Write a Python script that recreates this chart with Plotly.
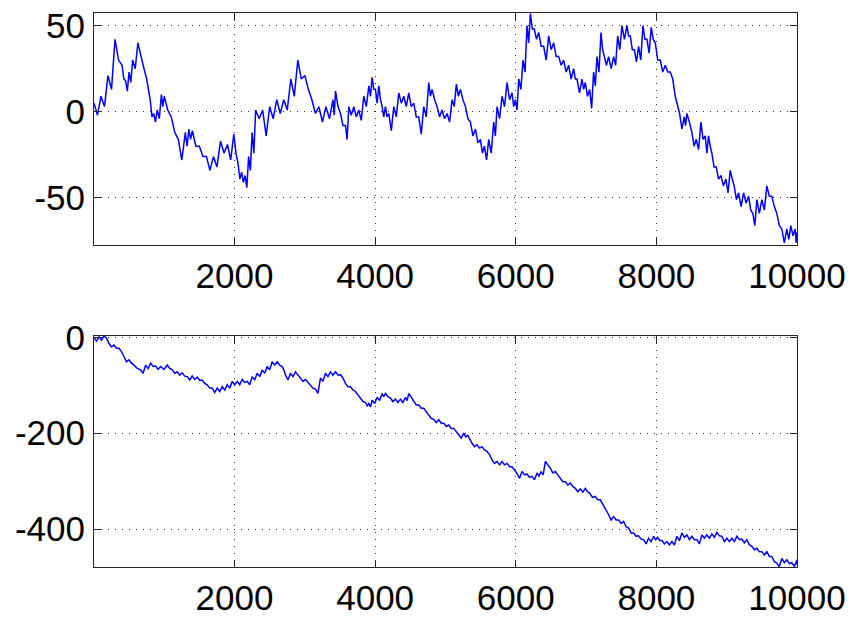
import plotly.graph_objects as go

# ---- top series: sample position, upper and lower edge of the noisy trace ----
top_x = [1, 100, 200, 300, 400, 450, 500, 550, 625, 700, 800, 850, 900, 960, 1000,
         1100, 1200, 1300, 1350, 1400, 1500, 1600, 1700, 1800, 1900, 1990, 2050, 2100,
         2150, 2200, 2250, 2300, 2400, 2500, 2600, 2700, 2800, 2900, 3000, 3100, 3200,
         3300, 3400, 3436, 3507, 3578, 3625, 3696, 3767, 3838, 3910, 3957, 4004, 4052,
         4099, 4146, 4194, 4265, 4336, 4407, 4478, 4549, 4620, 4691, 4762, 4810, 4881,
         4952, 5023, 5094, 5155, 5212, 5284, 5355, 5426, 5497, 5554, 5615, 5686, 5734,
         5805, 5876, 5947, 5994, 6042, 6103, 6160, 6208, 6264, 6326, 6397, 6468, 6539,
         6610, 6681, 6752, 6823, 6871, 6942, 6989, 7051, 7107, 7155, 7212, 7259, 7321,
         7392, 7449, 7510, 7581, 7629, 7686, 7747, 7809, 7866, 7927, 7984, 8055, 8126,
         8197, 8268, 8330, 8396, 8434, 8505, 8567, 8633, 8695, 8742, 8789, 8851, 8918,
         8989, 9050, 9107, 9169, 9240, 9311, 9372, 9429, 9500, 9571, 9642, 9713, 9784,
         9855, 9912, 9974, 10000]
top_hi = [5, 9, 21, 42, 27, 18, 23, 30, 40, 27, 7, -1, 1, 10, 9,
          -3, -16, -12, -10, -11, -20, -26, -26, -17, -19, -13, -30, -35,
          -37, -26, -12, 1, 1, 3, 7, 7, 19, 30, 21, 7, 3,
          3, 7, 12, -1, -8, 3, 3, 1, 9, 15, 20, 13, 15,
          3, 3, -1, 3, 11, 9, 11, 5, -3, 3, 17, 13, 3,
          1, -1, 7, 16, 13, 3, -6, -10, -16, -20, -16, -6, 3,
          9, 17, 11, 7, 19, 30, 50, 57, 48, 46, 38, 44, 40,
          32, 30, 27, 25, 19, 19, 17, 13, 23, 32, 46, 32, 32,
          32, 44, 50, 50, 44, 36, 38, 50, 42, 49, 40, 30, 27,
          23, 9, -1, -3, -1, -12, -16, -6, -14, -14, -24, -32, -37,
          -39, -34, -43, -47, -47, -49, -59, -51, -51, -43, -49, -59, -68,
          -68, -66, -68, -70]
top_lo = [-2, 3, 13, 30, 19, 12, 17, 25, 33, 19, -3, -6, -4, 3, 1,
          -12, -28, -20, -16, -20, -26, -34, -32, -24, -28, -24, -39, -41,
          -44, -34, -24, -4, -14, -4, -1, 1, 9, 19, 13, -1, -6,
          -4, -2, 3, -8, -16, -2, -3, -5, 3, 9, 13, 5, 7,
          -3, -3, -11, -3, 5, 3, 3, -3, -13, -3, 9, 7, -3,
          -4, -6, 3, 9, 7, -4, -14, -18, -24, -28, -24, -14, -4,
          3, 7, 3, 1, 13, 23, 40, 48, 42, 38, 30, 36, 32,
          27, 23, 19, 19, 11, 13, 9, 2, 15, 23, 36, 27, 25,
          27, 36, 42, 44, 36, 29, 30, 42, 34, 42, 30, 23, 23,
          19, 3, -10, -8, -6, -20, -22, -16, -24, -20, -32, -39, -43,
          -47, -39, -51, -55, -53, -57, -66, -59, -57, -49, -55, -66, -76,
          -74, -72, -76, -74]

# ---- bottom series ----
bot_x = [1, 72, 143, 214, 285, 356, 427, 498, 569, 664, 735, 806, 877, 948, 1043,
         1114, 1185, 1256, 1327, 1398, 1469, 1540, 1611, 1682, 1754, 1825, 1896, 1967,
         2038, 2109, 2180, 2251, 2322, 2393, 2464, 2535, 2606, 2677, 2725, 2796, 2867,
         2938, 3009, 3080, 3151, 3222, 3293, 3364, 3436, 3507, 3578, 3649, 3720, 3791,
         3862, 3910, 3957, 4028, 4099, 4146, 4218, 4289, 4360, 4431, 4478, 4549, 4620,
         4691, 4762, 4833, 4905, 4976, 5047, 5118, 5189, 5260, 5317, 5378, 5449, 5520,
         5591, 5663, 5734, 5805, 5876, 5947, 6018, 6089, 6160, 6231, 6302, 6359, 6421,
         6492, 6563, 6634, 6705, 6776, 6847, 6918, 6989, 7051, 7131, 7202, 7259, 7321,
         7392, 7463, 7534, 7605, 7676, 7747, 7818, 7889, 7960, 8017, 8079, 8150, 8221,
         8292, 8363, 8434, 8505, 8576, 8647, 8718, 8789, 8861, 8932, 9003, 9074, 9145,
         9216, 9287, 9358, 9429, 9500, 9571, 9642, 9713, 9784, 9855, 9926, 10000]
bot_hi = [0, 1, 3, -13, -16, -23, -40, -47, -58, -68, -58, -54, -60, -61, -58,
          -68, -72, -74, -82, -81, -83, -89, -99, -106, -106, -103, -99, -92,
          -92, -88, -92, -82, -75, -68, -61, -51, -51, -61, -79, -75, -72,
          -85, -88, -99, -108, -85, -75, -72, -72, -78, -96, -103, -113, -127,
          -136, -138, -131, -125, -117, -117, -127, -129, -129, -125, -117, -134, -141,
          -148, -162, -171, -172, -179, -183, -190, -204, -200, -204, -221, -224, -228,
          -238, -256, -259, -259, -263, -270, -284, -280, -285, -290, -283, -280, -259,
          -273, -280, -294, -301, -304, -315, -316, -315, -325, -332, -339, -353, -370,
          -374, -381, -384, -398, -408, -414, -422, -419, -415, -417, -424, -426, -426,
          -415, -408, -412, -415, -422, -412, -412, -410, -407, -415, -419, -419, -415,
          -421, -422, -436, -440, -447, -447, -457, -471, -461, -464, -470, -464]
bot_lo = [-8, -6, -2, -20, -23, -30, -51, -54, -65, -75, -65, -61, -67, -67, -65,
          -75, -79, -81, -89, -88, -90, -96, -106, -115, -113, -110, -106, -99,
          -99, -94, -99, -89, -82, -75, -68, -58, -58, -68, -89, -82, -79,
          -92, -94, -106, -117, -92, -82, -79, -79, -85, -103, -110, -120, -134,
          -143, -145, -138, -132, -124, -124, -134, -136, -136, -132, -125, -141, -148,
          -155, -169, -178, -179, -186, -190, -197, -210, -208, -214, -228, -231, -235,
          -245, -263, -266, -266, -270, -277, -294, -287, -292, -297, -290, -287, -266,
          -283, -287, -301, -308, -311, -322, -323, -322, -334, -339, -346, -363, -381,
          -381, -388, -395, -408, -415, -421, -431, -426, -422, -424, -431, -433, -433,
          -424, -417, -422, -422, -431, -419, -419, -417, -414, -426, -426, -426, -422,
          -429, -433, -443, -447, -454, -457, -468, -479, -470, -472, -478, -474]

x_ticks = [2000, 4000, 6000, 8000, 10000]
x_ticktext = ["2000", "4000", "6000", "8000", "10000"]
top_yticks = [-50, 0, 50]
top_yticktext = ["-50", "0", "50"]
bot_yticks = [-400, -200, 0]
bot_yticktext = ["-400", "-200", "0"]


def zigzag(xs, hi, lo):
    px, py = [], []
    for i in range(len(xs)):
        px.append(xs[i]); py.append(hi[i])
        if i + 1 < len(xs):
            px.append((xs[i] + xs[i + 1]) / 2); py.append(lo[i])
        else:
            px.append(xs[i]); py.append(lo[i])
    return px, py


tx, ty = zigzag(top_x, top_hi, top_lo)
bx, by = zigzag(bot_x, bot_hi, bot_lo)

fig = go.Figure()
fig.add_trace(go.Scatter(x=tx, y=ty, mode="lines", line=dict(color="#0000ff", width=1.5),
                         xaxis="x", yaxis="y", showlegend=False))
fig.add_trace(go.Scatter(x=bx, y=by, mode="lines", line=dict(color="#0000ff", width=1.5),
                         xaxis="x2", yaxis="y2", showlegend=False))

font = dict(family="Liberation Sans, Arial, sans-serif", size=35, color="#000000")
axis_common = dict(
    showline=True, linecolor="#262626", linewidth=1, mirror="ticks",
    ticks="inside", ticklen=7, tickcolor="#262626", tickwidth=1,
    showgrid=True, gridcolor="#333333", gridwidth=1, griddash="1px,6px",
    zeroline=False, tickfont=font, automargin=False,
)

fig.update_layout(
    width=851, height=617,
    margin=dict(l=94, r=54, t=13, b=50),
    paper_bgcolor="white", plot_bgcolor="white",
    xaxis=dict(domain=[0, 1], anchor="y", range=[1, 10000], tickvals=x_ticks,
               ticktext=x_ticktext, **axis_common),
    yaxis=dict(domain=[0.5812, 1], anchor="x", range=[-77.3, 57.3], tickvals=top_yticks,
               ticktext=top_yticktext, ticklabelstandoff=1, **axis_common),
    xaxis2=dict(domain=[0, 1], anchor="y2", range=[1, 10000], tickvals=x_ticks,
                ticktext=x_ticktext, **axis_common),
    yaxis2=dict(domain=[0, 0.4175], anchor="x2", range=[-479, 3.3], tickvals=bot_yticks,
                ticktext=bot_yticktext, ticklabelstandoff=1, **axis_common),
)

fig.write_html(
    "out.html",
    config={"displayModeBar": False},
    post_script="document.body.style.margin='0px';document.body.style.overflow='hidden';",
)
